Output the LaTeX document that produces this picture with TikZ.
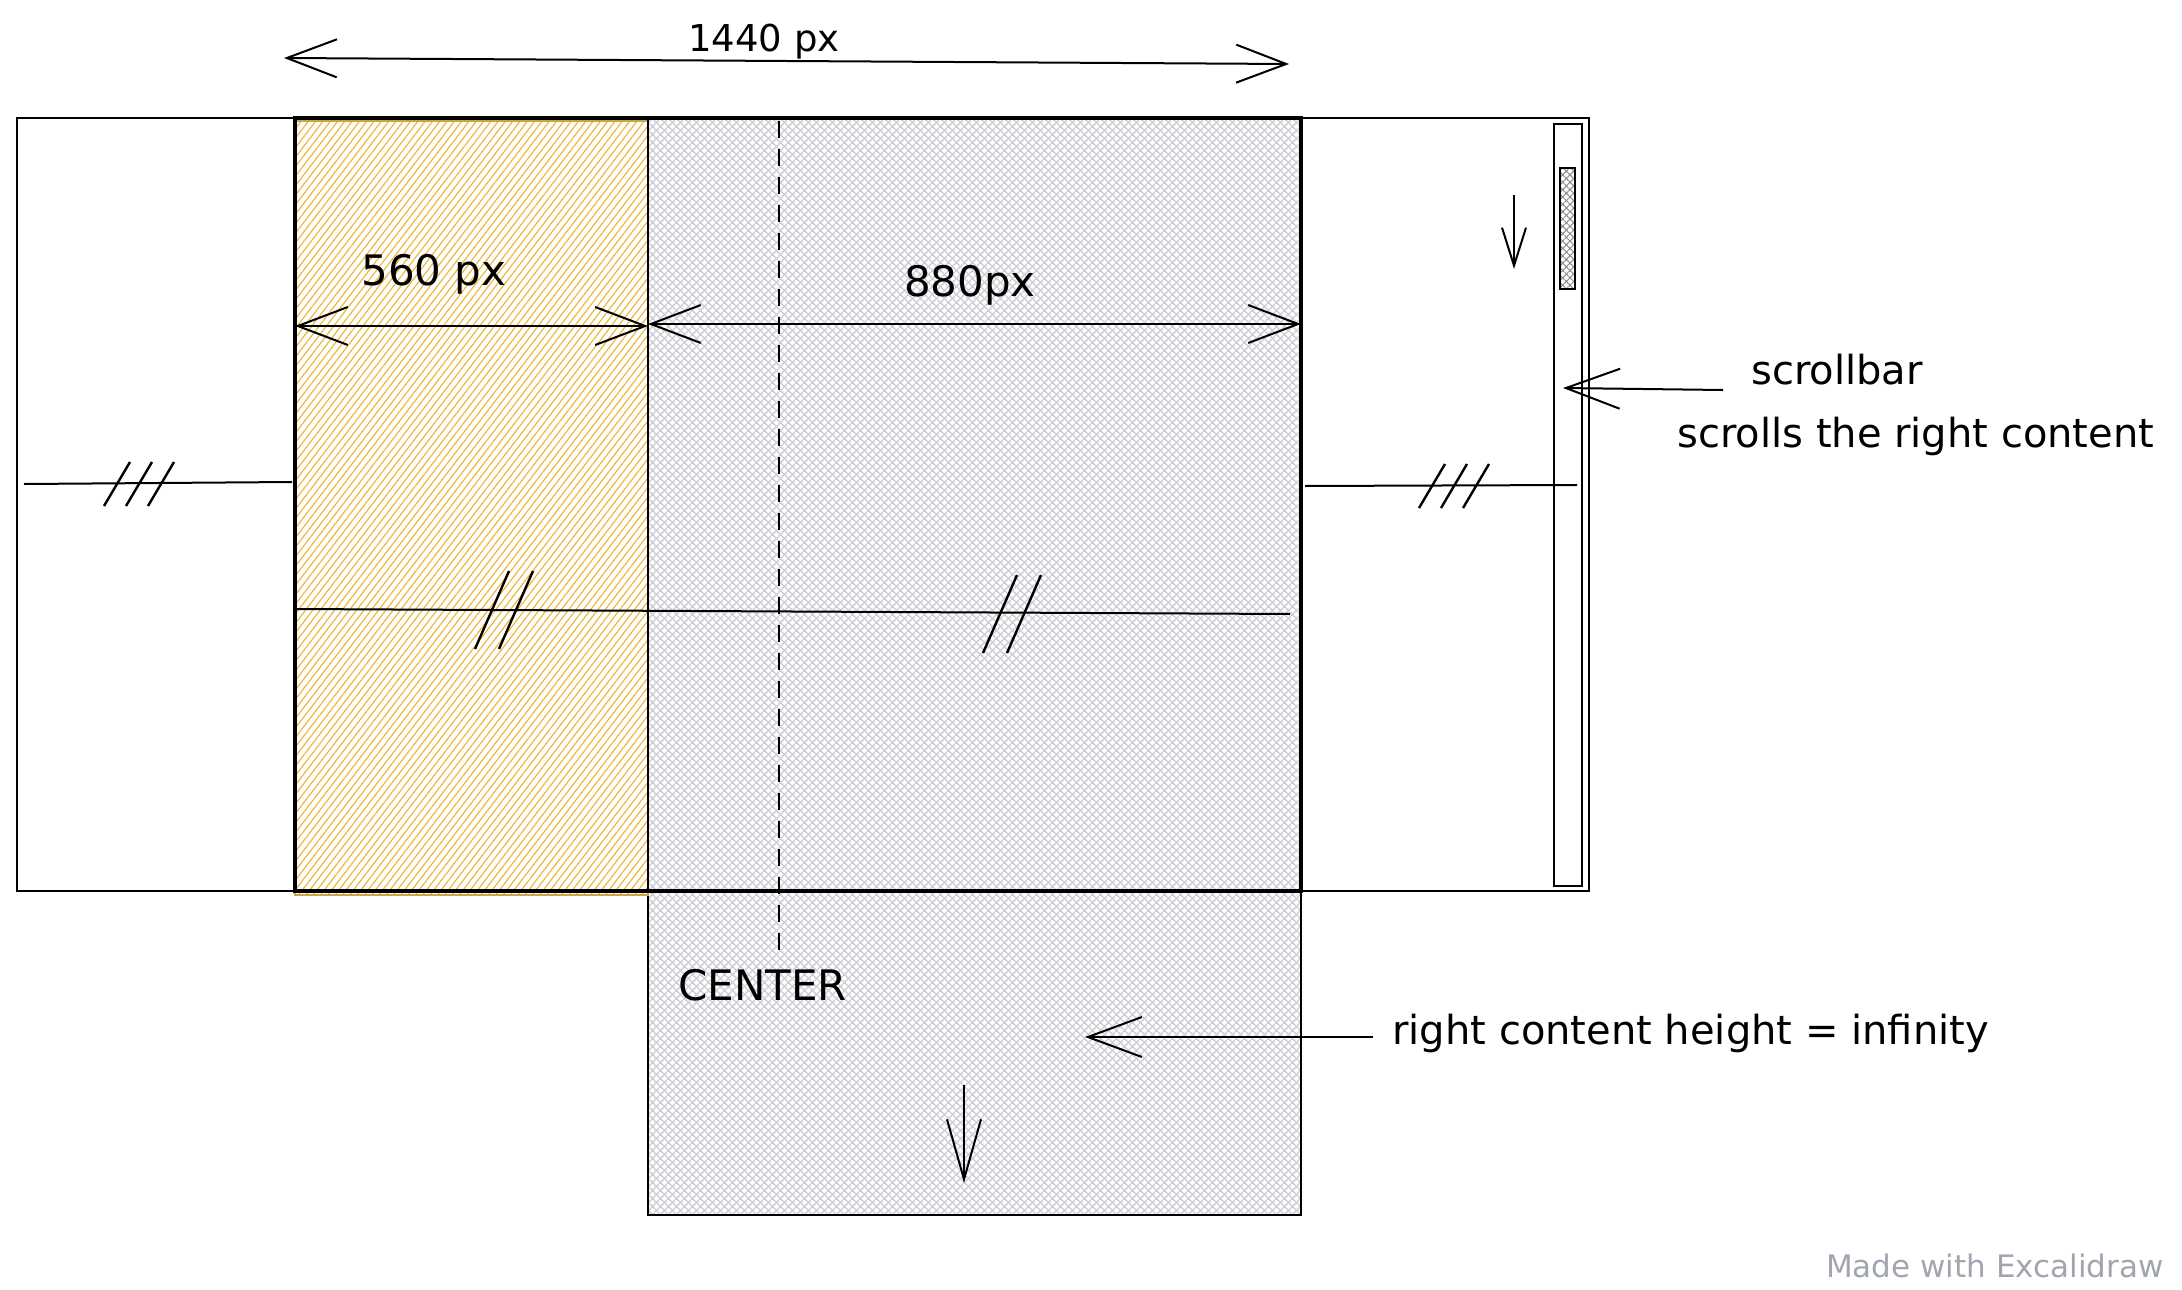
\documentclass[tikz,border=0pt]{standalone}
\usepackage{fontspec}
\setmainfont{DejaVu Sans}
\usetikzlibrary{arrows.meta,patterns.meta}
\definecolor{hatchY}{RGB}{236,180,50}
\definecolor{hatchG}{RGB}{202,204,210}
\definecolor{hatchD}{RGB}{140,140,140}
\definecolor{wm}{RGB}{160,165,175}
\tikzset{
  lbl/.style={font=\fontsize{20}{24}\selectfont, inner sep=0pt},
  numlbl/.style={font=\fontsize{21}{25}\selectfont, inner sep=0pt},
  dimline/.style={line width=1pt, {Straight Barb[length=25pt,width=19pt]}-{Straight Barb[length=25pt,width=19pt]}},
  pointer/.style={line width=1pt, -{Straight Barb[length=27pt,width=20pt]}},
  tickline/.style={line width=1.2pt},
  framebox/.style={draw, line width=1.2pt},
  yline/.style={draw=hatchY, line width=0.55pt},
  gline/.style={draw=hatchG, line width=0.6pt},
  dhatch/.style={pattern={Hatch[angle=45,distance=2.6pt,line width=0.5pt]}, pattern color=hatchD},
}
\begin{document}
\begin{tikzpicture}[x=0.5pt,y=-0.5pt]
\useasboundingbox (0,0) rectangle (2182,1289);

% screen frame
\draw[framebox] (17,118) rectangle (1589,891);

% right content (infinite height), diagonal cross-hatch
\begin{scope}
  \clip (648,118) rectangle (1301,1215);
  \foreach \x in {-452,-444,...,1301} {
    \draw[gline] (\x,1215) -- (\x+1097,118);
    \draw[gline] (\x,118) -- (\x+1097,1215);
  }
\end{scope}
\draw[line width=1pt] (648,891) -- (648,1215) -- (1301,1215) -- (1301,891);

% left content, yellow hatch
\begin{scope}
  \clip (295,121) rectangle (648,895);
  \foreach \x in {-300,-292.7,...,648} {
    \draw[yline] (\x,895) -- (\x+594,121);
  }
\end{scope}
\draw[hatchY!70!gray, line width=0.6pt] (295,121) rectangle (648,895);
\draw[line width=0.8pt] (648,118) -- (648,891);

% thick border of 1440 area
\draw[line width=1.6pt] (295,118) rectangle (1301,891);

% scrollbar
\draw[line width=0.9pt] (1554,124) rectangle (1582,886);
\fill[dhatch] (1560,168) rectangle (1575,289);
\draw[line width=0.9pt] (1560,168) rectangle (1575,289);

% centre dashed line
\coordinate (ctop) at (779,121);
\coordinate (cbot) at (779,950);
\draw[line width=1.1pt, dash pattern=on 8.5pt off 5.5pt] (ctop) -- (cbot);
\node[numlbl, anchor=west] (center) at (678,985) {CENTER};

% 1440 px dimension
\coordinate (w1L) at (284,58);
\coordinate (w1R) at (1289,64);
\draw[dimline] (w1L) -- (w1R);
\node[font=\fontsize{18.5}{22}\selectfont, inner sep=0pt] (l1440) at (764,42) {1440 px};

% 560 px dimension
\coordinate (w2L) at (295,326);
\coordinate (w2R) at (648,326);
\draw[dimline] (w2L) -- (w2R);
\node[numlbl] (l560) at (434,274) {560 px};

% 880 px dimension
\coordinate (w3L) at (648,324);
\coordinate (w3R) at (1301,324);
\draw[dimline] (w3L) -- (w3R);
\node[numlbl] (l880) at (970,285) {880px};

% equal-size markers
\coordinate (m1a) at (24,484);
\coordinate (m1b) at (292,482);
\draw[line width=1pt] (m1a) -- (m1b);
\foreach \dx in {-22,0,22}
  \draw[tickline] (139+\dx-13,506) -- (139+\dx+13,462);

\coordinate (m2a) at (1305,486);
\coordinate (m2b) at (1577,485);
\draw[line width=1pt] (m2a) -- (m2b);
\foreach \dx in {-22,0,22}
  \draw[tickline] (1454+\dx-13,508) -- (1454+\dx+13,464);

\coordinate (m3a) at (295,609);
\coordinate (m3b) at (1290,614);
\draw[line width=1pt] (m3a) -- (m3b);
\foreach \dx in {-12,12}
  \draw[tickline] (504+\dx-17,649) -- (504+\dx+17,571);
\foreach \dx in {-12,12}
  \draw[tickline] (1012+\dx-17,653) -- (1012+\dx+17,575);

% scroll direction arrows
\coordinate (s1a) at (1514,195);
\coordinate (s1b) at (1514,269);
\draw[line width=1pt, -{Straight Barb[length=19pt,width=12pt]}] (s1a) -- (s1b);
\coordinate (s2a) at (964,1085);
\coordinate (s2b) at (964,1183);
\draw[line width=1pt, -{Straight Barb[length=30pt,width=17pt]}] (s2a) -- (s2b);

% annotations
\node[lbl, anchor=west] (tscroll) at (1751,370) {scrollbar};
\node[lbl, anchor=west] (tscrolls) at (1677,436) {scrolls the right content};
\coordinate (p1a) at (1723,390);
\coordinate (p1b) at (1563,388);
\draw[pointer] (p1a) -- (p1b);

\node[lbl, anchor=west] (tinf) at (1392,1033) {right content height = infinity};
\coordinate (p2a) at (1373,1037);
\coordinate (p2b) at (1085,1037);
\draw[pointer] (p2a) -- (p2b);

\node[font=\fontsize{15.5}{18}\selectfont, text=wm, anchor=east, inner sep=0pt] (wmark) at (2164,1266) {Made with Excalidraw};
\end{tikzpicture}
\end{document}
